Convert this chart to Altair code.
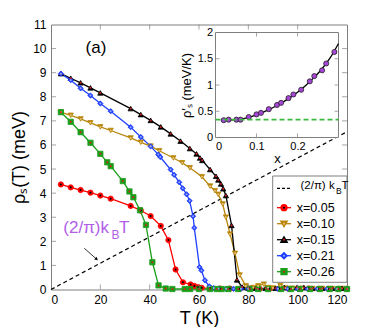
import altair as alt
import pandas as pd

FONT = "Liberation Sans"

# ---------------- data ----------------
series_names = ["x=0.05", "x=0.10", "x=0.15", "x=0.21", "x=0.26"]
series_colors = ["#ff0000", "#b8860b", "#000000", "#1f3fff", "#1a9e1a"]
series_shapes = ["circle", "triangle-down", "triangle-up", "diamond", "square"]
center_colors = ["#000000", "#e6c27a", "#d42020", "#9aa8ff", "#d42020"]

T_005 = [4, 8, 12, 16, 20, 24.2, 32.3, 36.4, 40.4, 44.5, 47.6, 50.5, 53.5, 56.6, 58.1, 59.7,
         61.1, 64.5, 68.5, 72.5, 76.5, 80.5, 84.5, 88.5, 92.5, 96.5, 100.5, 104.5, 108.5, 112.5, 116.5, 120]
rho_005 = [4.36, 4.24, 4.13, 4.02, 3.9, 3.77, 3.47, 3.28, 3.05, 2.64, 2.05, 0.83, 0.3, 0.21, 0.15, 0.1,
           0.07, 0.05, 0.04, 0.04, 0.03, 0.04, 0.03, 0.03, 0.04, 0.03, 0.03, 0.04, 0.03, 0.03, 0.03, 0.03]

T_010 = [4, 8, 12, 16, 20, 24.2, 32.3, 36.4, 40.4, 43.9, 49.6, 53.2, 56.3, 61.2, 64.5, 66.5, 67.8, 69.6,
         70.9, 72.6, 74.6, 76.5, 79, 82, 84, 86.3, 88, 90, 93, 95, 98, 102, 106, 110, 114, 118]
rho_010 = [7.36, 7.23, 7.08, 6.92, 6.75, 6.6, 6.29, 6.11, 5.95, 5.76, 5.46, 5.26, 5.05, 4.68, 4.29, 4.1, 3.95, 3.55,
           3.0, 2.3, 1.5, 0.6, 0.15, 0.08, 0.15, 0.22, 0.08, 0.06, 0.16, 0.06, 0.05, 0.05, 0.04, 0.04, 0.04, 0.04]

T_015 = [4, 8, 12, 16, 20, 32.3, 36.4, 40.4, 44.5, 48.5, 52.5, 56.3, 59, 60.4, 61.3, 64.5, 66.9, 67.8,
         68.9, 69.8, 70.9, 73.2, 75.4, 77.5, 80, 83, 87, 91, 94.6, 99.7, 102.5, 106, 110, 114, 118]
rho_015 = [8.96, 8.77, 8.58, 8.37, 8.16, 7.51, 7.26, 7.02, 6.75, 6.46, 6.16, 5.85, 5.63, 5.46, 5.36, 4.98, 4.7, 4.55,
           4.38, 4.18, 3.9, 2.66, 0.4, 0.1, 0.06, 0.05, 0.05, 0.05, 0.08, 0.08, 0.08, 0.05, 0.05, 0.05, 0.05]

T_021 = [4, 8, 12, 16, 20, 24.2, 32.3, 36.4, 40.4, 43.5, 44.3, 48.5, 49.9, 52, 53.4, 55, 56.2, 57.6, 58.1,
         60.2, 61, 62.4, 64.2, 66, 68, 71, 74, 77, 80, 84, 88, 92, 96, 100, 104, 108, 112, 116, 120]
rho_021 = [8.96, 8.69, 8.35, 8.05, 7.72, 7.4, 6.74, 6.33, 5.94, 5.6, 5.5, 4.98, 4.76, 4.45, 4.2, 3.95, 3.68, 3.04, 2.56,
           0.93, 0.79, 0.38, 0.13, 0.06, 0.04, 0.03, 0.03, 0.03, 0.03, 0.03, 0.03, 0.03, 0.03, 0.03, 0.03, 0.03, 0.03, 0.03, 0.03]

T_026 = [4, 8, 12, 16, 20, 22.8, 24.2, 29.1, 31.8, 33.4, 36.1, 38.5, 41.1, 43.6, 46.5, 49.2, 54.2, 56.4,
         60, 64.4, 67.2, 69.2, 71.9, 75.9, 80.7, 84, 88, 93.3, 97.3, 101, 105, 109, 113, 116.5, 120]
rho_026 = [7.36, 6.96, 6.53, 6.09, 5.63, 5.28, 5.12, 4.5, 4.07, 3.83, 3.29, 2.68, 1.13, 0.17, 0.04, 0.02, 0.02, 0.02,
           0.02, 0.02, 0.02, 0.02, 0.02, 0.02, 0.02, 0.02, 0.02, 0.02, 0.02, 0.02, 0.02, 0.02, 0.02, 0.02, 0.02]

all_T = [T_005, T_010, T_015, T_021, T_026]
all_rho = [rho_005, rho_010, rho_015, rho_021, rho_026]

# (2/pi) k_B T reference line (end points)
kbt_T = [0, 120]
kbt_rho = [0, 6.55]

# inset: rho'_s vs x
inset_x = [0.02, 0.032, 0.051, 0.061, 0.081, 0.10, 0.111, 0.13, 0.15, 0.16, 0.178, 0.19, 0.209,
           0.23, 0.241, 0.26, 0.27, 0.29]
inset_y = [0.33, 0.34, 0.34, 0.34, 0.39, 0.44, 0.47, 0.54, 0.62, 0.66, 0.75, 0.82, 0.91,
           1.07, 1.17, 1.28, 1.41, 1.63]
fit_x = [0.015, 0.05, 0.08, 0.10, 0.13, 0.15, 0.18, 0.20, 0.22, 0.24, 0.26, 0.28, 0.30]
fit_y = [0.33, 0.34, 0.38, 0.43, 0.53, 0.61, 0.75, 0.86, 0.99, 1.14, 1.31, 1.52, 1.79]
base_x = [0, 0.3]
base_y = [0.34, 0.34]

main_xticks = [0, 20, 40, 60, 80, 100, 120]
main_yticks = list(range(0, 12))
inset_xticks = [0, 0.1, 0.2]
inset_yticks = [0, 0.5, 1, 1.5, 2]
inset_xdomain = [0, 0.3]
inset_ydomain = [0, 2]

# ---------------- tables ----------------
rows = []
for name, col, ctr, Ts, rs in zip(series_names, series_colors, center_colors, all_T, all_rho):
    for t, r in zip(Ts, rs):
        rows.append({"T": t, "rho": r, "series": name, "col": col, "ctr": ctr})
df = pd.DataFrame(rows)
df_kbt = pd.DataFrame({"T": kbt_T, "rho": kbt_rho})
df_ins = pd.DataFrame({"xv": inset_x, "yv": inset_y})
df_fit = pd.DataFrame({"xv": fit_x, "yv": fit_y})
df_base = pd.DataFrame({"xv": base_x, "yv": base_y})

W, H = 296, 265
GRAY = "#7f7f7f"

xs = alt.Scale(domain=[0, 120], nice=False, zero=False)
ys = alt.Scale(domain=[0, 11], nice=False, zero=False)
X = alt.X("T:Q", scale=xs, axis=alt.Axis(values=main_xticks, title="T (K)", labelPadding=5,
                                           titlePadding=4, labelFontSize=12, titleFontSize=18))
Y = alt.Y("rho:Q", scale=ys, axis=alt.Axis(values=main_yticks, title="ρₛ(T) (meV)", labelPadding=5,
                                             titlePadding=4, labelFontSize=12, titleFontSize=18))

shape_scale = alt.Scale(domain=series_names, range=series_shapes)

lines = alt.Chart(df).mark_line(strokeWidth=1.3).encode(
    x=X, y=Y, stroke=alt.Stroke("col:N", scale=None), detail="series:N")
pts = alt.Chart(df).mark_point(filled=True, size=28, strokeWidth=0.8, opacity=1).encode(
    x=X, y=Y, shape=alt.Shape("series:N", scale=shape_scale, legend=None),
    fill=alt.Fill("col:N", scale=None), stroke=alt.Stroke("col:N", scale=None))
ctrs = alt.Chart(df).mark_circle(size=4, opacity=1).encode(
    x=X, y=Y, fill=alt.Fill("ctr:N", scale=None))
kbt = alt.Chart(df_kbt).mark_line(color="black", strokeWidth=1.2, strokeDash=[4, 3]).encode(x=X, y=Y)

mx = pd.DataFrame({"T": main_xticks[1:-1]})
my = pd.DataFrame({"rho": main_yticks[1:-1]})
tick_b = alt.Chart(mx).mark_tick(orient="vertical", size=5, thickness=1, color=GRAY).encode(x=X, y=alt.value(H - 2.5))
tick_t = alt.Chart(mx).mark_tick(orient="vertical", size=5, thickness=1, color=GRAY).encode(x=X, y=alt.value(2.5))
tick_l = alt.Chart(my).mark_tick(orient="horizontal", size=5, thickness=1, color=GRAY).encode(y=Y, x=alt.value(2.5))
tick_r = alt.Chart(my).mark_tick(orient="horizontal", size=5, thickness=1, color=GRAY).encode(y=Y, x=alt.value(W - 2.5))

main = alt.layer(kbt, lines, pts, ctrs, tick_b, tick_t, tick_l, tick_r)

# ---------------- inset ----------------
IX0, IX1, IY0, IY1 = 164.5, 287.5, 113, 8
xi = alt.Scale(domain=inset_xdomain, range=[IX0, IX1], nice=False, zero=False)
yi = alt.Scale(domain=inset_ydomain, range=[IY0, IY1], nice=False, zero=False)
XI = alt.X("xv:Q", scale=xi, axis=alt.Axis(orient="bottom", offset=IY0 - H, values=inset_xticks, format="~g",
                                            title="x", labelFontSize=11, titleFontSize=13, labelPadding=3,
                                            titlePadding=1, titleFontWeight="normal"))
YI = alt.Y("yv:Q", scale=yi, axis=alt.Axis(orient="left", offset=-IX0, values=inset_yticks, format="~g",
                                            title="ρ′ₛ (meV/K)", labelFontSize=11, titleFontSize=13,
                                            labelPadding=3, titlePadding=4, titleFontWeight="normal"))

df_box = pd.DataFrame({"xv": [inset_xdomain[0]], "xv2": [inset_xdomain[1]],
                       "yv": [inset_ydomain[0]], "yv2": [inset_ydomain[1]]})
box = alt.Chart(df_box).mark_rect(fill="white", stroke=GRAY, strokeWidth=1).encode(
    x=XI, x2="xv2:Q", y=YI, y2="yv2:Q")
fit = alt.Chart(df_fit).mark_line(color="black", strokeWidth=1.3, interpolate="monotone").encode(x=XI, y=YI)
ipts = alt.Chart(df_ins).mark_point(filled=True, shape="circle", size=26, fill="#a646d8",
                                    stroke="#222222", strokeWidth=0.8, opacity=1).encode(x=XI, y=YI)
base = alt.Chart(df_base).mark_line(color="#3cb83c", strokeWidth=1.8, strokeDash=[5, 3]).encode(x=XI, y=YI)
ixt = pd.DataFrame({"xv": inset_xticks[1:]})
iyt = pd.DataFrame({"yv": inset_yticks[1:-1]})
itb = alt.Chart(ixt).mark_tick(orient="vertical", size=4, thickness=1, color=GRAY).encode(x=XI, y=alt.value(IY0 - 2))
itt = alt.Chart(ixt).mark_tick(orient="vertical", size=4, thickness=1, color=GRAY).encode(x=XI, y=alt.value(IY1 + 2))
itl = alt.Chart(iyt).mark_tick(orient="horizontal", size=4, thickness=1, color=GRAY).encode(y=YI, x=alt.value(IX0 + 2))
itr = alt.Chart(iyt).mark_tick(orient="horizontal", size=4, thickness=1, color=GRAY).encode(y=YI, x=alt.value(IX1 - 2))

inset = alt.layer(box, fit, ipts, base, itb, itt, itl, itr)

# ---------------- annotations & legend (pixel layout) ----------------
one = pd.DataFrame({"d": [0]})


def txt(s, x, y, size=12, color="black", align="left", baseline="middle"):
    return alt.Chart(one).mark_text(text=s, fontSize=size, color=color, align=align, baseline=baseline,
                                    font=FONT).encode(x=alt.value(x), y=alt.value(y))


overlay = []
overlay.append(txt("(a)", 45, 23.5, size=17, align="center"))
PURPLE = "#b15ee8"
overlay.append(txt("(2/π)k", 12.3, 203.8, size=17, color=PURPLE))
overlay.append(txt("B", 60.5, 210, size=12, color=PURPLE))
overlay.append(txt("T", 68, 203.8, size=17, color=PURPLE))
overlay.append(alt.Chart(one).mark_rule(color="black", strokeWidth=0.8).encode(
    x=alt.value(33.3), y=alt.value(223.8), x2=alt.value(46), y2=alt.value(235)))
overlay.append(alt.Chart(one).mark_point(shape="triangle-up", angle=131, filled=True, size=14,
                                         color="black", opacity=1).encode(
    x=alt.value(45.6), y=alt.value(234.6)))

# legend box
LX0, LX1, LY0, LY1 = 221.7, 296, 151.5, 257.8
overlay.append(alt.Chart(one).mark_rect(fill="white", stroke=GRAY, strokeWidth=1).encode(
    x=alt.value(LX0), x2=alt.value(LX1), y=alt.value(LY0), y2=alt.value(LY1)))
row_y0, row_dy = 163.8, 16.0
overlay.append(alt.Chart(one).mark_rule(color="black", strokeWidth=1.2, strokeDash=[3, 2]).encode(
    x=alt.value(226), x2=alt.value(240), y=alt.value(row_y0)))
overlay.append(txt("(2/π) k", 249.5, row_y0 - 2, size=11.5))
overlay.append(txt("B", 285, row_y0 + 3, size=8.5))
overlay.append(txt("T", 290.5, row_y0 - 2, size=11.5))
for i, (name, col, shp, ctr) in enumerate(zip(series_names, series_colors, series_shapes, center_colors)):
    yy = row_y0 + 19.4 + i * row_dy
    overlay.append(alt.Chart(one).mark_rule(color=col, strokeWidth=1.3).encode(
        x=alt.value(226), x2=alt.value(240), y=alt.value(yy)))
    overlay.append(alt.Chart(one).mark_point(shape=shp, filled=True, size=28, fill=col, stroke=col,
                                             opacity=1).encode(x=alt.value(233), y=alt.value(yy)))
    overlay.append(alt.Chart(one).mark_circle(size=4, color=ctr, opacity=1).encode(
        x=alt.value(233), y=alt.value(yy)))
    overlay.append(txt(name, 245.7, yy, size=12.5))

chart = alt.layer(main, inset, *overlay).resolve_scale(
    x="independent", y="independent"
).properties(
    width=W, height=H,
    autosize=alt.AutoSizeParams(type="none"),
    padding={"left": 43, "top": 16.5, "right": 30, "bottom": 37},
).configure(font=FONT).configure_view(
    stroke=GRAY, strokeWidth=1
).configure_axis(
    domain=False, ticks=False, grid=False, labelColor="black", titleColor="black",
    labelFont=FONT, titleFont=FONT, titleFontWeight="normal"
)

chart.save("out.html", embed_options={"renderer": "svg", "actions": False})
